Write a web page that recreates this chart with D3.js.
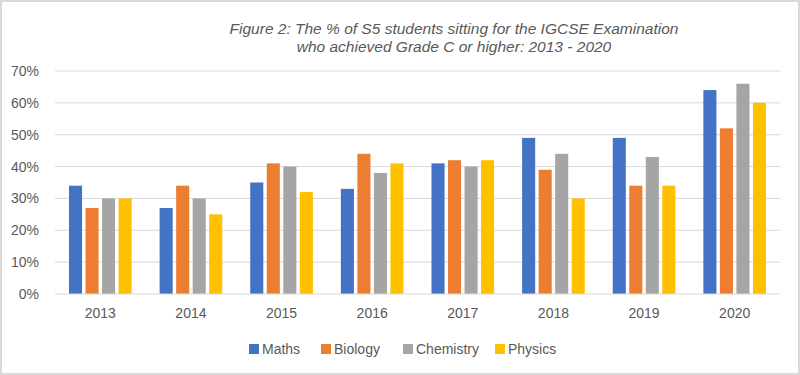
<!DOCTYPE html>
<html>
<head>
<meta charset="utf-8">
<script src="https://cdn.jsdelivr.net/npm/d3@7"></script>
<style>
  body { margin: 0; background: #fff; }
  svg text { fill: #595959; }
</style>
</head>
<body>
<div id="chart"></div>
<script>
// chart data
const years = ["2013", "2014", "2015", "2016", "2017", "2018", "2019", "2020"];
const subjects = ["Maths", "Biology", "Chemistry", "Physics"];
const maths = [34, 27, 35, 33, 41, 49, 49, 64];
const biology = [27, 34, 41, 44, 42, 39, 34, 52];
const chemistry = [30, 30, 40, 38, 40, 44, 43, 66];
const physics = [30, 25, 32, 41, 42, 30, 34, 60];
const yTicks = [0, 10, 20, 30, 40, 50, 60, 70];
const titleLines = [
    "Figure 2: The % of S5 students sitting for the IGCSE Examination",
    "who achieved Grade C or higher: 2013 - 2020"
];

const series = [maths, biology, chemistry, physics];
const colours = ["#4472C4", "#ED7D31", "#A5A5A5", "#FFC000"];

const svgWidth = 800;
const svgHeight = 375;
const margin = { top: 71, right: 20, bottom: 81, left: 55 };
const width = svgWidth - margin.left - margin.right;
const height = svgHeight - margin.top - margin.bottom;

const svg = d3.select("#chart")
    .append("svg")
    .attr("width", svgWidth)
    .attr("height", svgHeight)
    .style("font-family", "'Liberation Sans Narrow', 'Liberation Sans', Arial, sans-serif");

// light frame round the whole picture
svg.append("rect")
    .attr("x", 1).attr("y", 1)
    .attr("width", svgWidth - 2).attr("height", svgHeight - 2)
    .attr("fill", "#fff")
    .attr("stroke", "#d9d9d9")
    .attr("stroke-width", 2);

const g = svg.append("g")
    .attr("transform", `translate(${margin.left},${margin.top})`);

const y = d3.scaleLinear()
    .domain([0, 70])
    .range([height, 0]);

const x = d3.scaleBand()
    .domain(years)
    .range([0, width]);

// inner scale for the four bars in a group
const xSub = d3.scaleBand()
    .domain(subjects)
    .range([14, x.bandwidth() - 14])
    .paddingInner(0.21);

// gridlines
g.append("g")
    .selectAll("line")
    .data(yTicks.slice(1))
    .join("line")
    .attr("x1", 0)
    .attr("x2", width)
    .attr("y1", d => y(d))
    .attr("y2", d => y(d))
    .attr("stroke", "#d9d9d9")
    .attr("stroke-width", 1);

// y axis labels
const yAxis = g.append("g")
    .attr("class", "axis axis-y")
    .call(d3.axisLeft(y).tickValues(yTicks).tickFormat(d => d + "%").tickSize(0).tickPadding(16));
yAxis.select(".domain").remove();
yAxis.selectAll("text").attr("font-size", "14px").style("fill", "#595959");

// bars
const groups = g.selectAll(".year")
    .data(years)
    .join("g")
    .attr("class", "year")
    .attr("transform", d => `translate(${x(d)},0)`);

groups.selectAll("rect")
    .data((d, i) => subjects.map((s, j) => ({ subject: s, value: series[j][i], colour: colours[j] })))
    .join("rect")
    .attr("x", d => xSub(d.subject))
    .attr("y", d => y(d.value))
    .attr("width", xSub.bandwidth())
    .attr("height", d => height - y(d.value))
    .attr("fill", d => d.colour);

// baseline
g.append("line")
    .attr("x1", 0).attr("x2", width)
    .attr("y1", height).attr("y2", height)
    .attr("stroke", "#d9d9d9")
    .attr("stroke-width", 1);

// x axis labels
const xAxis = g.append("g")
    .attr("class", "axis axis-x")
    .attr("transform", `translate(0,${height})`)
    .call(d3.axisBottom(x).tickSize(0).tickPadding(14));
xAxis.select(".domain").remove();
xAxis.selectAll("text").attr("font-size", "14px").style("fill", "#595959");

// title
svg.append("text")
    .attr("x", 454)
    .attr("y", 34)
    .attr("text-anchor", "middle")
    .attr("font-size", "15.5px")
    .attr("font-style", "italic")
    .style("font-family", "'Liberation Sans Narrow', 'Liberation Sans', Arial, sans-serif")
    .selectAll("tspan")
    .data(titleLines)
    .join("tspan")
    .attr("x", 454)
    .attr("dy", (d, i) => i === 0 ? 0 : 18)
    .text(d => d);

// legend
const legendStarts = [249, 321, 403, 495];
const legend = svg.append("g")
    .attr("transform", "translate(0,344)");

const items = legend.selectAll("g")
    .data(subjects)
    .join("g")
    .attr("transform", (d, i) => `translate(${legendStarts[i]},0)`);

items.append("rect")
    .attr("width", 10)
    .attr("height", 10)
    .attr("fill", (d, i) => colours[i]);

items.append("text")
    .attr("x", 13)
    .attr("y", 10)
    .attr("font-size", "14px")
    .text(d => d);
</script>
</body>
</html>
